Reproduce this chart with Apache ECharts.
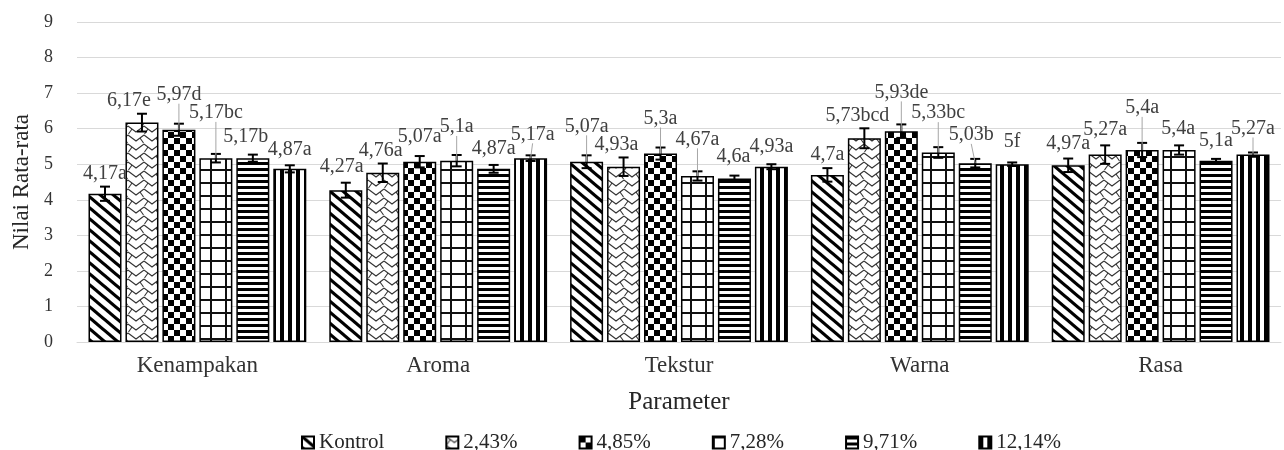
<!DOCTYPE html>
<html>
<head>
<meta charset="utf-8">
<script src="https://cdn.jsdelivr.net/npm/echarts@6/dist/echarts.min.js"></script>
<style>
  html, body { margin: 0; padding: 0; background: #fff; }
  #chart { width: 1284px; height: 450px; }
</style>
</head>
<body>
<div id="chart"></div>
<script>
// ---------- DATA ----------
const categories = ['Kenampakan', 'Aroma', 'Tekstur', 'Warna', 'Rasa'];
const seriesNames = ['Kontrol', '2,43%', '4,85%', '7,28%', '9,71%', '12,14%'];
const yTicks = [0, 1, 2, 3, 4, 5, 6, 7, 8, 9];

// mean values per treatment (across categories)
const valKontrol = [4.17, 4.27, 5.07, 4.70, 4.97];
const val243     = [6.17, 4.76, 4.93, 5.73, 5.27];
const val485     = [5.97, 5.07, 5.30, 5.93, 5.40];
const val728     = [5.17, 5.10, 4.67, 5.33, 5.40];
const val971     = [5.17, 4.87, 4.60, 5.03, 5.10];
const val1214    = [4.87, 5.17, 4.93, 5.00, 5.27];

// error bar half-lengths (estimated)
const errKontrol = [0.20, 0.21, 0.18, 0.19, 0.19];
const err243     = [0.25, 0.26, 0.26, 0.28, 0.26];
const err485     = [0.17, 0.16, 0.17, 0.19, 0.20];
const err728     = [0.12, 0.16, 0.13, 0.15, 0.13];
const err971     = [0.10, 0.11, 0.08, 0.12, 0.05];
const err1214    = [0.10, 0.08, 0.07, 0.05, 0.06];

// significance letters
const letKontrol = ['a', 'a', 'a', 'a', 'a'];
const let243     = ['e', 'a', 'a', 'bcd', 'a'];
const let485     = ['d', 'a', 'a', 'de', 'a'];
const let728     = ['bc', 'a', 'a', 'bc', 'a'];
const let971     = ['b', 'a', 'a', 'b', 'a'];
const let1214    = ['a', 'a', 'a', 'f', 'a'];

const allVals = [valKontrol, val243, val485, val728, val971, val1214];
const allErrs = [errKontrol, err243, err485, err728, err971, err1214];
const allLets = [letKontrol, let243, let485, let728, let971, let1214];

// ---------- STYLE (label nudges in px: [dx, lift, leaderLine]) ----------
const labelNudge = {
  '0-1': [-13, 0, false], '0-2': [0, 16, true], '0-3': [0, 28, true], '0-4': [-7, 5, false], '0-5': [0, 3, false],
  '1-0': [-4, 3, false], '1-1': [-2, 0, false], '1-2': [0, 6, false], '1-3': [0, 15, true], '1-4': [0, 3, false], '1-5': [2, 8, true],
  '2-0': [0, 16, true], '2-1': [-7, 0, false], '2-2': [0, 16, true], '2-3': [0, 19, true], '2-4': [-1, 6, false], '2-5': [0, 4, false],
  '3-1': [-7, 0, false], '3-2': [0, 19, true], '3-3': [0, 21, true], '3-4': [-4, 11, true], '3-5': [0, 8, false],
  '4-0': [0, 2, false], '4-1': [0, 3, false], '4-2': [0, 22, true], '4-3': [-1, 4, false], '4-4': [0, 5, false], '4-5': [0, 11, true]
};

const FONT = 'Liberation Serif, Times New Roman, serif';
const BAR_W = 33;
const BAR_GAP = 0.12;
const STEP = BAR_W * (1 + BAR_GAP);

// ---------- PATTERNS ----------
function tile(w, h, draw) {
  const c = document.createElement('canvas');
  c.width = w; c.height = h;
  const g = c.getContext('2d');
  g.fillStyle = '#fff'; g.fillRect(0, 0, w, h);
  g.fillStyle = '#000'; g.strokeStyle = '#000';
  draw(g, w, h);
  return c;
}
const patterns = [
  tile(13, 11, (g, w, h) => {           // diagonal stripes
    g.lineWidth = 3.2;
    for (const x0 of [-w, 0, w]) {
      g.beginPath(); g.moveTo(x0 - w, -h); g.lineTo(x0 + 2 * w, 2 * h); g.stroke();
    }
  }),
  tile(16, 18, (g, w, h) => {           // diagonal bricks
    g.lineWidth = 1.1; g.strokeStyle = '#333';
    for (const y0 of [-9, 0, 9, 18]) {
      g.beginPath(); g.moveTo(0, y0); g.lineTo(8, y0 + 6); g.lineTo(16, y0); g.stroke();
    }
    const seg = (a, b, c, d) => { g.beginPath(); g.moveTo(a, b); g.lineTo(c, d); g.stroke(); };
    seg(4, 3, 0.5, 8);
    seg(12, 12, 15.5, 17);
    seg(12, -6, 15.5, -1);
    seg(4, 21, 0.5, 26);
  }),
  tile(12, 12, (g) => {                  // checkerboard
    g.fillRect(0, 0, 6, 6); g.fillRect(6, 6, 6, 6);
  }),
  tile(15, 13, (g, w, h) => {           // grid
    g.fillStyle = '#111';
    g.fillRect(0, 0, 2, h); g.fillRect(0, 0, w, 2);
  }),
  tile(8, 6, (g) => {                    // horizontal stripes
    g.fillRect(0, 0, 8, 3);
  }),
  tile(8, 8, (g) => {                    // vertical stripes
    g.fillRect(0, 0, 4, 8);
  })
];

// ---------- SERIES ----------
const barSeries = seriesNames.map((name, si) => ({
  name,
  type: 'bar',
  data: allVals[si],
  barWidth: BAR_W,
  barGap: (BAR_GAP * 100) + '%',
  itemStyle: { color: { image: patterns[si], repeat: 'repeat' }, borderColor: '#000', borderWidth: 1.5 },
  emphasis: { disabled: true },
  z: 2
}));

const errData = [];
categories.forEach((c, ci) => {
  seriesNames.forEach((n, si) => {
    errData.push([ci, si, allVals[si][ci], allErrs[si][ci]]);
  });
});

function fmt(v) { return String(v).replace('.', ','); }

const errSeries = {
  type: 'custom',
  name: 'err',
  data: errData,
  encode: { x: 0, y: 2 },
  z: 5,
  silent: true,
  clip: false,
  renderItem(params, api) {
    const ci = api.value(0), si = api.value(1), v = api.value(2), e = api.value(3);
    const cx = api.coord([ci, 0])[0] + (si - 2.5) * STEP;
    const yT = api.coord([ci, v + e])[1];
    const yB = api.coord([ci, v - e])[1];
    const yV = api.coord([ci, v])[1];
    const cap = 5;
    const st = { stroke: '#000', lineWidth: 2 };
    const nud = labelNudge[ci + '-' + si] || [0, 0, false];
    const ly = yT - 13 - nud[1];
    const lx = cx + nud[0];
    const children = [
      { type: 'line', shape: { x1: cx, y1: yT, x2: cx, y2: yB }, style: st },
      { type: 'line', shape: { x1: cx - cap, y1: yT, x2: cx + cap, y2: yT }, style: st },
      { type: 'line', shape: { x1: cx - cap, y1: yB, x2: cx + cap, y2: yB }, style: st }
    ];
    if (nud[2]) {
      children.push({ type: 'line', shape: { x1: lx, y1: ly + 9, x2: cx, y2: yV }, style: { stroke: '#a6a6a6', lineWidth: 1 } });
    }
    children.push({
      type: 'text',
      style: {
        text: fmt(v) + allLets[si][ci],
        x: lx, y: ly,
        align: 'center', verticalAlign: 'middle',
        fill: '#404040',
        fontSize: 20, fontFamily: FONT
      }
    });
    return { type: 'group', children };
  }
};

const chart = echarts.init(document.getElementById('chart'), null, { renderer: 'canvas' });
chart.setOption({
  animation: false,
  backgroundColor: '#fff',
  grid: { left: 77, right: 3, top: 22, bottom: 108, containLabel: false },
  legend: {
    data: seriesNames,
    top: 427,
    left: 296,
    itemWidth: 12,
    itemHeight: 12,
    itemGap: 61,
    itemTextGap: 4,
    icon: 'rect',
    textStyle: { fontFamily: FONT, fontSize: 21, color: '#262626' }
  },
  xAxis: {
    type: 'category',
    data: categories,
    name: 'Parameter',
    nameLocation: 'middle',
    nameGap: 48,
    nameTextStyle: { fontFamily: FONT, fontSize: 25, color: '#262626' },
    axisLine: { lineStyle: { color: '#d9d9d9', width: 1 } },
    axisTick: { show: false },
    axisLabel: { fontFamily: FONT, fontSize: 23, color: '#333', margin: 12 }
  },
  yAxis: {
    type: 'value',
    min: yTicks[0],
    max: yTicks[yTicks.length - 1],
    interval: 1,
    name: 'Nilai Rata-rata',
    nameLocation: 'middle',
    nameGap: 43,
    nameTextStyle: { fontFamily: FONT, fontSize: 23, color: '#262626' },
    axisLine: { show: false },
    axisTick: { show: false },
    splitLine: { lineStyle: { color: '#d9d9d9', width: 1 } },
    axisLabel: { fontFamily: FONT, fontSize: 18, color: '#333', margin: 24 }
  },
  series: [...barSeries, errSeries]
});
</script>
</body>
</html>
